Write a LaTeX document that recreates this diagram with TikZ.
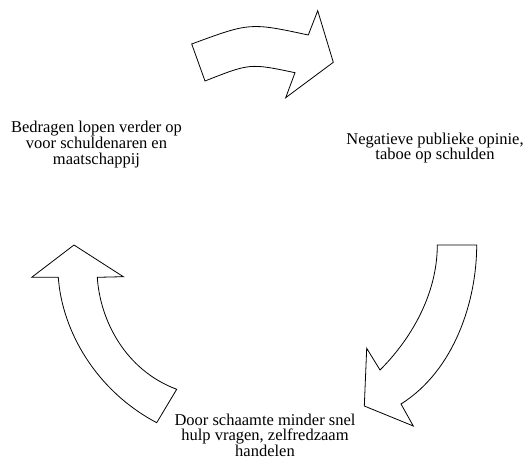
\documentclass[tikz,border=0pt]{standalone}
\usepackage{fontspec}
\setmainfont{Liberation Serif}
\begin{document}
\begin{tikzpicture}[x=1pt,y=-1pt,
  bigarrow/.style={draw=black,fill=white,line width=0.8pt,line join=miter},
  label/.style={font=\fontsize{16.5}{15.8}\selectfont,align=center,anchor=base,inner sep=0pt}]
\useasboundingbox (0,0) rectangle (526,462);
% top arrow
\draw[bigarrow] (191.7,44) .. controls (250,22.5) .. (308.3,35) -- (317.7,10.7) -- (333.3,62.3) -- (285.7,97.7) -- (295,72.7) .. controls (250,63.2) .. (205,81) -- cycle;
% right arrow
\draw[bigarrow] (437.3,245) -- (476.7,245) .. controls (476.7,300) and (455,370) .. (401,404) -- (413.3,426) -- (364.3,406) -- (366.7,348.3) -- (380,370) .. controls (415,335) and (437.3,290) .. (437.3,245) -- cycle;
% left arrow
\draw[bigarrow] (74,245) -- (123.3,276.7) -- (97.3,277.3) .. controls (100,320) and (125,370) .. (176.7,389.3) -- (156.7,422.7) .. controls (95,390) and (62,330) .. (58.3,277.3) -- (31.7,277.3) -- cycle;
% anchors are at the baseline of the last line
\node[label] (left) at (96.5,164.3) {Bedragen lopen verder op\\voor schuldenaren en\\maatschappij};
\node[label] (right) at (435,160) {Negatieve publieke opinie,\\taboe op schulden};
\node[label] (bottom) at (265,456.7) {Door schaamte minder snel\\hulp vragen, zelfredzaam\\handelen};
\end{tikzpicture}
\end{document}
